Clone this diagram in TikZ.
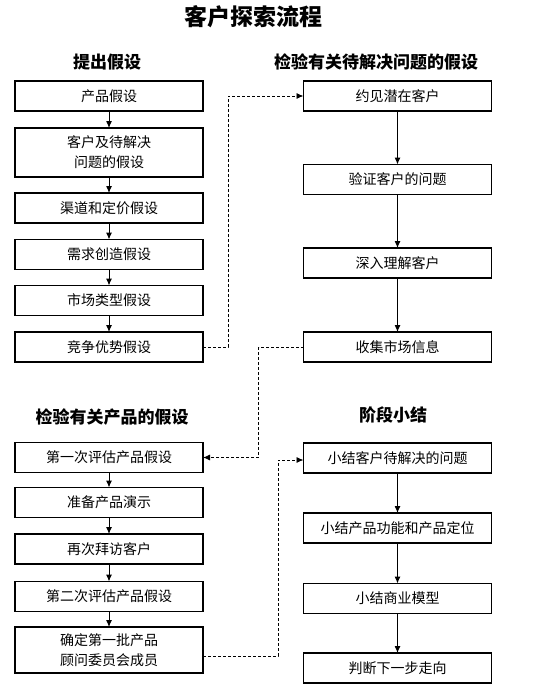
\documentclass[tikz,border=0pt]{standalone}
\usepackage{fontspec}
\setmainfont{Noto Sans CJK SC}
\usetikzlibrary{arrows.meta}
\tikzset{
  box/.style={draw, line width=1.2pt, minimum width=188pt, minimum height=30pt, inner sep=0pt, outer sep=0pt, font=\fontsize{14}{20}\selectfont, align=center},
  tallbox/.style={box, minimum height=48pt},
  head/.style={font=\fontsize{17}{20}\selectfont\bfseries, inner sep=0pt},
  flow/.style={line width=1pt, -{Latex[length=7pt,width=6pt]}},
  dflow/.style={line width=0.9pt, dash pattern=on 3pt off 2pt, -{Latex[length=7pt,width=6pt]}},
}
\begin{document}
\begin{tikzpicture}[x=1pt,y=-1pt]
\useasboundingbox[fill=white] (0,0) rectangle (540,696);
\node[font=\fontsize{23}{26}\selectfont\bfseries, inner sep=0pt] (title) at (253,17) {客户探索流程};
% headings
\node[head] (h1) at (107,62) {提出假设};
\node[head] (h2) at (376,62) {检验有关待解决问题的假设};
\node[head] (h3) at (112,417) {检验有关产品的假设};
\node[head] (h4) at (393,415) {阶段小结};
% upper left
\node[box] (a1) at (109,96) {产品假设};
\node[tallbox, minimum height=49pt] (a2) at (109,152.5) {客户及待解决\\问题的假设};
\node[box] (a3) at (109,208) {渠道和定价假设};
\node[box] (a4) at (109,254.5) {需求创造假设};
\node[box] (a5) at (109,300.5) {市场类型假设};
\node[box] (a6) at (109,347) {竞争优势假设};
% upper right
\node[box] (b1) at (397.5,96) {约见潜在客户};
\node[box] (b2) at (397.5,179.5) {验证客户的问题};
\node[box] (b3) at (397.5,263) {深入理解客户};
\node[box] (b4) at (397.5,347) {收集市场信息};
% lower left
\node[box] (c1) at (109,457.5) {第一次评估产品假设};
\node[box] (c2) at (109,502.5) {准备产品演示};
\node[box] (c3) at (109,549) {再次拜访客户};
\node[box] (c4) at (109,596.5) {第二次评估产品假设};
\node[tallbox, minimum height=46pt] (c5) at (109,650) {确定第一批产品\\顾问委员会成员};
% lower right
\node[box] (d1) at (397.5,458) {小结客户待解决的问题};
\node[box] (d2) at (397.5,528) {小结产品功能和产品定位};
\node[box] (d3) at (397.5,598.5) {小结商业模型};
\node[box] (d4) at (397.5,668) {判断下一步走向};
% solid arrows
\foreach \u/\v in {a1/a2,a2/a3,a3/a4,a4/a5,a5/a6,b1/b2,b2/b3,b3/b4,c1/c2,c2/c3,c3/c4,c4/c5,d1/d2,d2/d3,d3/d4}
  \draw[flow] (\u.south) -- (\v.north);
% dashed connectors
\draw[dflow] (a6.east) -- ++(25,0) |- (b1.west);
\draw[dflow] (b4.west) -- ++(-45,0) |- (c1.east);
\draw[dflow] ([yshift=-6pt]c5.east) -- ++(75,0) |- ([yshift=-2pt]d1.west);
\end{tikzpicture}
\end{document}
